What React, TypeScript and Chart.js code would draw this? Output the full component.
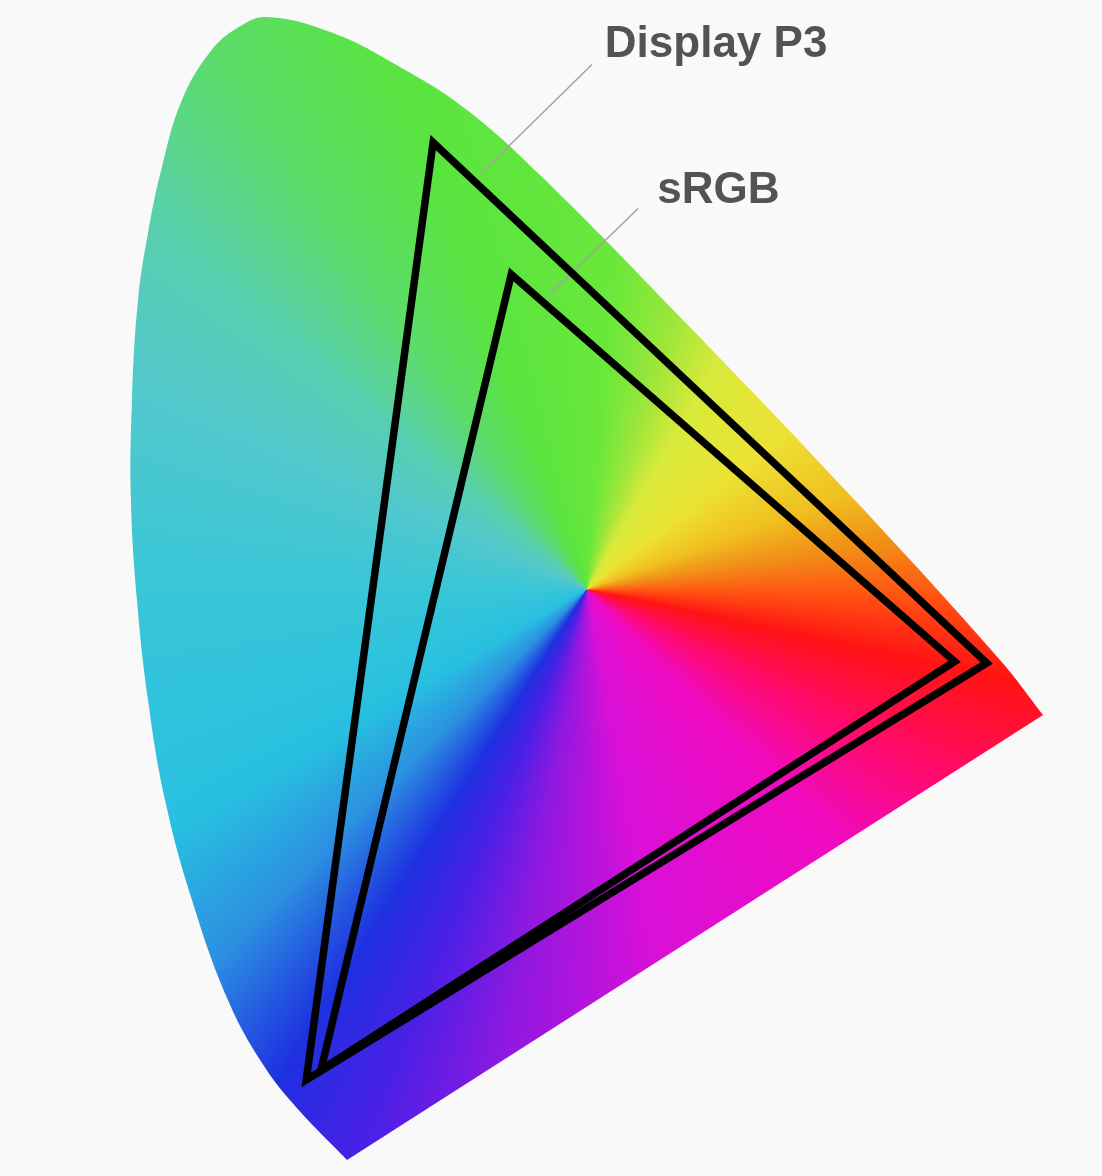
import { useEffect, useRef } from 'react';
import { Chart, registerables, ChartConfiguration } from 'chart.js';

Chart.register(...registerables);

// spectral locus (chromaticity-like units): from the violet end up the left side,
// over the top and down to the red end; the fill closes it with the straight purple line
const locusX = [0.1708, 0.131, 0.1045, 0.0779, 0.0498, 0.0288, 0.0155, 0.0069, 0.0022, 0.003, 0.0077, 0.0155, 0.0264, 0.042, 0.0639, 0.085, 0.1084, 0.1599, 0.2122, 0.2644, 0.3214, 0.4307, 0.5633, 0.6804, 0.714];
const locusY = [0.0107, 0.046, 0.0753, 0.1173, 0.184, 0.2507, 0.3173, 0.384, 0.4507, 0.5173, 0.584, 0.6287, 0.6727, 0.7173, 0.7493, 0.7653, 0.7727, 0.762, 0.7393, 0.7107, 0.6673, 0.5727, 0.454, 0.344, 0.3073];

// primaries: green, red, blue
const p3X = [0.238, 0.67, 0.139];
const p3Y = [0.689, 0.342, 0.064];
const srgbX = [0.299, 0.645, 0.1505];
const srgbY = [0.601, 0.343, 0.0707];

const gamutNames = ['Display P3', 'sRGB'];
const labelX = [0.372, 0.413];
const labelY = [0.746, 0.649];
// leader lines: [label end, triangle end]
const leaderX = [[0.362, 0.276], [0.398, 0.328]];
const leaderY = [[0.741, 0.669], [0.645, 0.587]];

const whitePoint = { x: 0.358, y: 0.391 };

// hue wheel around the white point, angle in degrees clockwise from +x
const hueAngles = [0, 12, 28, 45, 80, 100, 112, 122, 135, 150, 180, 205, 220, 235, 250, 275, 288, 300, 322, 340, 352, 360];
const hueColors = ['#ff5a12', '#ff1414', '#ff0a6e', '#f00ac0', '#d810d8', '#9018e0', '#4a20e6', '#1e30e0', '#2c90e0', '#28c0e0', '#38c6d8', '#52c8cc', '#58cfb0', '#5cdc6a', '#5ae440', '#6ae83a', '#a0e63a', '#d8ea3a', '#ece234', '#f0c020', '#f28a18', '#ff5a12'];

const pts = (xs: number[], ys: number[]) => xs.map((x, i) => ({ x, y: ys[i] }));

// go round the triangle once more to the second corner so every corner gets a mitre join
const loop = (xs: number[], ys: number[]) => {
    const p = pts(xs, ys);
    return [...p, p[0], p[1]];
};

const bgPlugin = {
    id: 'bg',
    beforeDraw(chart: Chart) {
        const { ctx, width, height } = chart;
        ctx.save();
        ctx.fillStyle = '#f9f9f9';
        ctx.fillRect(0, 0, width, height);
        ctx.restore();
    },
};

const labelPlugin = {
    id: 'gamutLabels',
    afterDatasetsDraw(chart: Chart) {
        const { ctx, scales } = chart;
        ctx.save();
        ctx.font = 'bold 44px "Liberation Sans", Arial, sans-serif';
        ctx.fillStyle = '#535353';
        ctx.textBaseline = 'alphabetic';
        gamutNames.forEach((name, i) => {
            ctx.fillText(name, scales.x.getPixelForValue(labelX[i]), scales.y.getPixelForValue(labelY[i]));
        });
        ctx.restore();
    },
};

const App = () => {
    const chartRef = useRef<HTMLCanvasElement | null>(null);

    useEffect(() => {
        document.body.style.margin = '0';
        const ctx = chartRef.current?.getContext('2d');
        if (!ctx) return;

        const hueFill = (c: any) => {
            const chart = c.chart as Chart;
            if (!chart.chartArea) return '#5ade5a';
            const cx = chart.scales.x.getPixelForValue(whitePoint.x);
            const cy = chart.scales.y.getPixelForValue(whitePoint.y);
            const g = chart.ctx.createConicGradient(0, cx, cy);
            hueAngles.forEach((a, i) => g.addColorStop(a / 360, hueColors[i]));
            return g;
        };

        const line = (data: { x: number; y: number }[], color: string, width: number, order: number) => ({
            data,
            showLine: true,
            borderColor: color,
            borderWidth: width,
            borderJoinStyle: 'miter' as const,
            pointRadius: 0,
            fill: false,
            order,
        });

        const config: ChartConfiguration = {
            type: 'scatter',
            data: {
                datasets: [
                    {
                        data: pts(locusX, locusY),
                        showLine: true,
                        borderWidth: 0,
                        borderColor: 'rgba(0,0,0,0)',
                        backgroundColor: hueFill,
                        fill: 'shape',
                        pointRadius: 0,
                        tension: 0.4,
                        order: 10,
                    } as any,
                    line(pts(leaderX[0], leaderY[0]), '#a3a3a3', 1.5, 5),
                    line(pts(leaderX[1], leaderY[1]), '#a3a3a3', 1.5, 5),
                    line(loop(p3X, p3Y), '#000000', 7.5, 1),
                    line(loop(srgbX, srgbY), '#000000', 7.5, 1),
                ],
            },
            options: {
                responsive: false,
                animation: false,
                layout: { padding: 0 },
                plugins: {
                    legend: { display: false },
                    tooltip: { enabled: false },
                },
                scales: {
                    x: { type: 'linear', display: false, min: -0.1, max: 0.76 },
                    y: { type: 'linear', display: false, min: 0, max: 0.784 },
                },
            },
            plugins: [bgPlugin, labelPlugin],
        };

        const myChart = new Chart(ctx, config);

        return () => {
            myChart.destroy();
        };
    }, []);

    return (
        <div>
            <canvas ref={chartRef} width={1102} height={1176} style={{ display: 'block' }} />
        </div>
    );
};

export default App;
